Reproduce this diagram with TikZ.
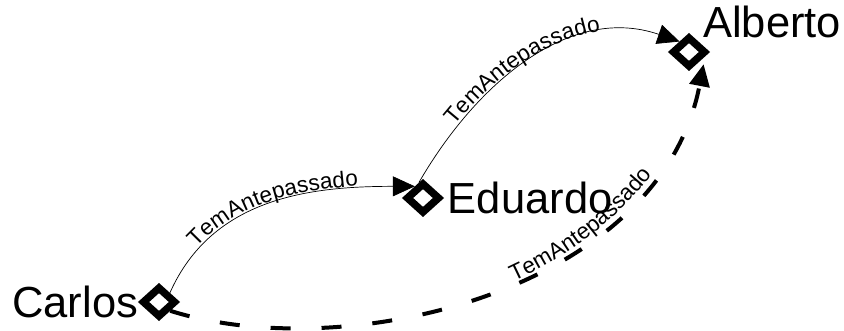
\documentclass[tikz,border=0pt]{standalone}
\usepackage{fontspec}
\setmainfont{Liberation Sans}
\usetikzlibrary{arrows.meta,positioning,shapes.geometric,decorations.text}
\newcommand\lblfont{\fontsize{22.5}{24}\selectfont}

\begin{document}
\begin{tikzpicture}[
      x=1pt,y=1pt,
      gem/.style={draw,shape=diamond,line width=7.5pt,minimum width=34pt,
                  minimum height=31pt,inner sep=0pt},
      person/.style={font=\fontsize{43.5}{46}\selectfont,inner sep=0pt},
      rel/.style={-{Triangle[length=22pt,width=20pt]},line width=0.7pt},
      relx/.style={rel,line width=4pt,dash pattern=on 20pt off 31pt,shorten >=8pt},
      tag/.style 2 args={postaction={decorate,decoration={text along path,
                  text={|\lblfont|TemAntepassado},text align={left indent=#1},raise=#2}}}
    ]
    \useasboundingbox (0,0) rectangle (844,330);
    \node[gem] (carlos) at (159,28) {};
    \node[gem] (eduardo) at (423,132) {};
    \node[gem] (alberto) at (689,278) {};

    \node[person,left=0pt of carlos] (carlosname) {Carlos};
    \node[person,right=4pt of eduardo] (eduardoname) {Eduardo};
    \node[person,anchor=base west] (albertoname) at ([xshift=14pt,yshift=14pt]alberto.center) {Alberto};

    \draw[rel,tag={52pt}{2pt}] (carlos.40) to[out=66,in=180] (eduardo.125);
    \draw[rel,tag={67pt}{2pt}] (eduardo.105) to[out=60,in=161] (alberto.132);
    \draw[relx,tag={352pt}{0pt}] (carlos.-38) .. controls (345,-36) and (660,38) .. (alberto.-15);
  \end{tikzpicture}
\end{document}
